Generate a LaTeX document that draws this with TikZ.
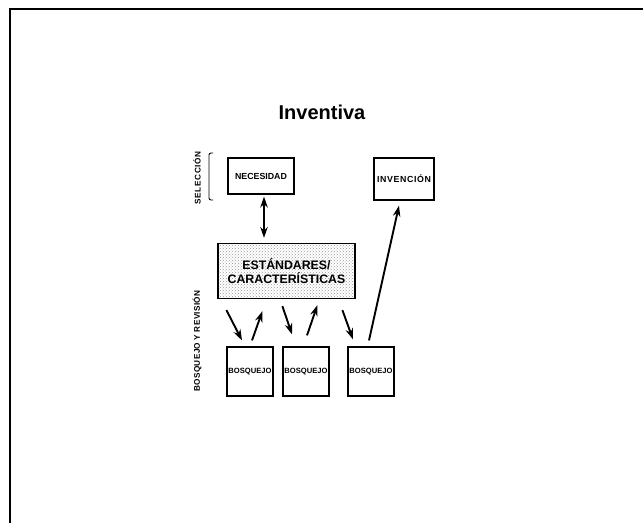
\documentclass[tikz,border=0pt]{standalone}
\usepackage{fontspec}
\setmainfont{Liberation Sans}
\usetikzlibrary{arrows.meta, calc, patterns}
\newcommand{\spaced}[2][8]{\addfontfeature{LetterSpace=#1}#2}

\begin{document}
\begin{tikzpicture}[x=1pt, y=-1pt,
    box/.style={draw, line width=1.2pt, inner sep=0pt,
      font=\bfseries\fontsize{8.8}{10}\selectfont},
    sketch/.style={box, minimum width=46pt, minimum height=49pt,
      font=\bfseries\fontsize{7.6}{8}\selectfont},
    tip/.tip={Stealth[length=11pt,width=7.5pt]},
    arr/.style={-tip, line width=1.9pt},
    side/.style={rotate=90, inner sep=0pt,
      font=\bfseries\fontsize{8.2}{9}\selectfont}]
  \useasboundingbox (0,0) rectangle (643,523);
  \draw[line width=1.3pt] (10,523) -- (10,9) -- (643,9);

  \node[font=\bfseries\fontsize{20}{24}\selectfont] (title) at (322,112) {Inventiva};

  \node[box, minimum width=66pt, minimum height=36pt] (nec) at (261,176) {NECESIDAD};
  \node[box, minimum width=60pt, minimum height=42pt] (inv) at (404,179)
    {\spaced[7]{INVENCIÓN}};
  \node[box, minimum width=137pt, minimum height=55pt, pattern=crosshatch dots,
    pattern color=black!40, align=center,
    font=\bfseries\fontsize{12.3}{14}\selectfont] (est) at (286.5,271)
    {ESTÁNDARES/\\CARACTERÍSTICAS};

  \node[sketch] (b1) at (250,371.5) {BOSQUEJO};
  \node[sketch] (b2) at (306,371.5) {BOSQUEJO};
  \node[sketch] (b3) at (371,371.5) {BOSQUEJO};

  \node[side] (sel) at (197,178) {\spaced{SELECCIÓN}};
  \node[side] (rev) at (197,341) {\spaced[4]{BOSQUEJO Y REVISIÓN}};
  \draw[line width=0.9pt, rounded corners=2pt]
    (213,153) -- (209,153) -- (209,200) -- (213,200);

  \draw[tip-tip, line width=1.9pt]
    ($(nec.south)+(3,2)$) -- ($(nec.south |- est.north)+(3,-5)$);

  \draw[arr] ($(est.south west)+(9,11)$) -- ($(b1.north)+(-8,-6)$);
  \draw[arr] ($(b1.north)+(2,-6)$) -- ($(est.south west)+(45,12)$);
  \draw[arr] ($(est.south west)+(65,7)$) -- ($(b2.north)+(-14,-12)$);
  \draw[arr] ($(b2.north)+(1,-11)$) -- ($(est.south west)+(100,6)$);
  \draw[arr] ($(est.south west)+(125,11)$) -- ($(b3.north)+(-18,-7)$);
  \draw[arr] ($(b3.north)+(-2,-6)$) -- ($(inv.south)+(-5,5)$);
\end{tikzpicture}
\end{document}
